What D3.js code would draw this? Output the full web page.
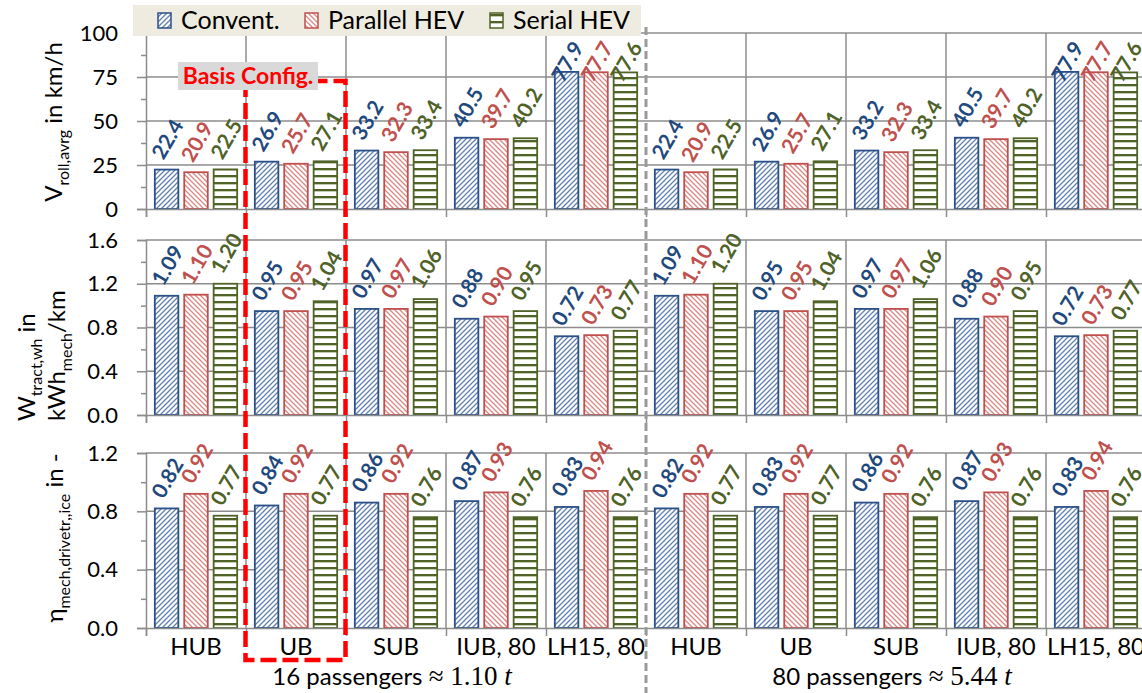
<!DOCTYPE html>
<html><head><meta charset="utf-8">
<script src="https://cdn.jsdelivr.net/npm/d3@7"></script>
<style>
html,body{margin:0;padding:0;background:#fff;}
svg{display:block;font-family:Lato,'DejaVu Sans',sans-serif;}
</style>
</head><body>
<svg id="chart" width="1142" height="693"></svg>
<script>
// ---------- data ----------
const categories = ["HUB", "UB", "SUB", "IUB, 80", "LH15, 80"];
const loadCases = ["16 passengers", "80 passengers"];
const loadMass = ["1.10", "5.44"];
const seriesNames = ["Convent.", "Parallel HEV", "Serial HEV"];

// V_roll,avrg in km/h (16 passengers, then 80 passengers)
const speedConvent  = [22.4, 26.9, 33.2, 40.5, 77.9, 22.4, 26.9, 33.2, 40.5, 77.9];
const speedParallel = [20.9, 25.7, 32.3, 39.7, 77.7, 20.9, 25.7, 32.3, 39.7, 77.7];
const speedSerial   = [22.5, 27.1, 33.4, 40.2, 77.6, 22.5, 27.1, 33.4, 40.2, 77.6];
// W_tract,wh in kWh_mech/km
const workConvent  = [1.09, 0.95, 0.97, 0.88, 0.72, 1.09, 0.95, 0.97, 0.88, 0.72];
const workParallel = [1.10, 0.95, 0.97, 0.90, 0.73, 1.10, 0.95, 0.97, 0.90, 0.73];
const workSerial   = [1.20, 1.04, 1.06, 0.95, 0.77, 1.20, 1.04, 1.06, 0.95, 0.77];
// eta_mech,drivetr,,ice
const effConvent  = [0.82, 0.84, 0.86, 0.87, 0.83, 0.82, 0.83, 0.86, 0.87, 0.83];
const effParallel = [0.92, 0.92, 0.92, 0.93, 0.94, 0.92, 0.92, 0.92, 0.93, 0.94];
const effSerial   = [0.77, 0.77, 0.76, 0.76, 0.76, 0.77, 0.77, 0.76, 0.76, 0.76];

const speedTicks = [0, 25, 50, 75, 100];
const speedMinor = [12.5, 37.5, 62.5, 87.5];
const workTicks = [0, 0.4, 0.8, 1.2, 1.6];
const workMinor = [0.2, 0.6, 1.0, 1.4];
const effTicks = [0, 0.4, 0.8, 1.2];
const effMinor = [0.2, 0.6, 1.0];

// ---------- styles ----------
const borderColors = ["#2b5088", "#c0504d", "#4f6228"];
const labelColors = ["#1f497d", "#c0504d", "#4f6228"];
const gridColor = "#8c8c8c";

const svg = d3.select("#chart");
const W = 1142, H = 693;
const x0 = 146, x1 = 1146;
const nGroups = categories.length * loadCases.length;

const xGroup = d3.scaleBand().domain(d3.range(nGroups)).range([x0, x1]).padding(0);
const xSeries = d3.scaleBand().domain(d3.range(3)).range([0, xGroup.bandwidth()])
  .paddingInner(0.2).paddingOuter(0.3);
const xBound = d3.scaleLinear().domain([0, nGroups]).range([x0, x1]);

// ---------- patterns ----------
const defs = svg.append("defs");
{
  const p0 = defs.append("pattern").attr("id", "pat0").attr("patternUnits", "userSpaceOnUse")
    .attr("width", 5).attr("height", 5);
  p0.append("rect").attr("width", 5).attr("height", 5).attr("fill", "#fff");
  p0.append("path").attr("d", "M-1,1 l2,-2 M0,5 l5,-5 M4,6 l2,-2")
    .attr("stroke", "#3a62a0").attr("stroke-width", 1.3).attr("stroke-opacity", 0.8);
  const p1 = defs.append("pattern").attr("id", "pat1").attr("patternUnits", "userSpaceOnUse")
    .attr("width", 5).attr("height", 5);
  p1.append("rect").attr("width", 5).attr("height", 5).attr("fill", "#fff");
  p1.append("path").attr("d", "M-1,4 l2,2 M0,0 l5,5 M4,-1 l2,2")
    .attr("stroke", "#d06a67").attr("stroke-width", 1.3).attr("stroke-opacity", 0.8);
  const p2 = defs.append("pattern").attr("id", "pat2").attr("patternUnits", "userSpaceOnUse")
    .attr("width", 7).attr("height", 7);
  p2.append("rect").attr("width", 7).attr("height", 7).attr("fill", "#fff");
  p2.append("rect").attr("y", 0).attr("width", 7).attr("height", 2).attr("fill", "#4f6228");
  p2.append("rect").attr("y", 2).attr("width", 7).attr("height", 1).attr("fill", "#c3ccb0");
}

// ---------- panels ----------
const panels = [
  { series: [speedConvent, speedParallel, speedSerial], domain: [0, 100], top: 33, bottom: 209,
    ticks: speedTicks, minor: speedMinor, tickFmt: d3.format("d"), valFmt: d3.format(".1f"), labelMinY: 61 },
  { series: [workConvent, workParallel, workSerial], domain: [0, 1.6], top: 240, bottom: 415,
    ticks: workTicks, minor: workMinor, tickFmt: d3.format(".1f"), valFmt: d3.format(".2f"), labelMinY: 0 },
  { series: [effConvent, effParallel, effSerial], domain: [0, 1.2], top: 453, bottom: 628,
    ticks: effTicks, minor: effMinor, tickFmt: d3.format(".1f"), valFmt: d3.format(".2f"), labelMinY: 0 }
];

const sepIndex = categories.length;

panels.forEach((p, pi) => {
  const y = d3.scaleLinear().domain(p.domain).range([p.bottom, p.top]);
  const g = svg.append("g");

  // horizontal grid
  g.selectAll("line.hgrid").data(p.ticks.filter(t => t > 0)).join("line")
    .attr("x1", x0).attr("x2", W + 5)
    .attr("y1", d => y(d)).attr("y2", d => y(d))
    .attr("stroke", gridColor).attr("stroke-width", 1.5);
  // vertical grid
  g.selectAll("line.vgrid").data(d3.range(1, nGroups).filter(i => i !== sepIndex)).join("line")
    .attr("x1", d => xBound(d)).attr("x2", d => xBound(d))
    .attr("y1", y(p.domain[1])).attr("y2", y(0))
    .attr("stroke", gridColor).attr("stroke-width", 1.5);

  // bars
  p.series.forEach((vals, s) => {
    g.selectAll("rect.s" + s).data(vals).join("rect")
      .attr("x", (d, i) => xGroup(i) + xSeries(s))
      .attr("y", d => y(d))
      .attr("width", xSeries.bandwidth())
      .attr("height", d => y(0) - y(d))
      .attr("fill", "url(#pat" + s + ")")
      .attr("stroke", borderColors[s]).attr("stroke-width", 1.8);
  });

  // axes
  const ya = g.append("g").attr("transform", `translate(${x0},0)`)
    .call(d3.axisLeft(y).tickValues(p.ticks).tickSize(9).tickPadding(19).tickFormat(p.tickFmt));
  ya.select(".domain").attr("stroke", gridColor).attr("stroke-width", 1.5);
  ya.selectAll(".tick line").attr("stroke", gridColor).attr("stroke-width", 1.5);
  ya.selectAll(".tick text").attr("font-size", 22).attr("fill", "#000")
    .attr("font-family", "Lato, sans-serif");
  const ym = g.append("g").attr("transform", `translate(${x0},0)`)
    .call(d3.axisLeft(y).tickValues(p.minor).tickSize(5).tickFormat(""));
  ym.select(".domain").remove();
  ym.selectAll(".tick line").attr("stroke", gridColor).attr("stroke-width", 1.5);

  const xa = g.append("g").attr("transform", `translate(0,${y(0)})`)
    .call(d3.axisBottom(xBound).tickValues(d3.range(nGroups + 1)).tickSize(8).tickFormat(""));
  xa.select(".domain").attr("stroke", gridColor).attr("stroke-width", 1.5);
  xa.selectAll(".tick line").attr("stroke", gridColor).attr("stroke-width", 1.5);

  // value labels
  p.series.forEach((vals, s) => {
    g.selectAll("text.v" + s).data(vals).join("text")
      .attr("transform", (d, i) => {
        const cx = xGroup(i) + xSeries(s) + xSeries.bandwidth() / 2;
        const cy = Math.max(y(d) - 31, p.labelMinY);
        return `translate(${cx},${cy}) rotate(-60)`;
      })
      .attr("text-anchor", "middle").attr("dominant-baseline", "central")
      .attr("font-weight", "bold").attr("font-size", 21)
      .attr("fill", labelColors[s])
      .text(d => p.valFmt(d));
  });

  if (pi === panels.length - 1) {
    const ca = svg.append("g").attr("transform", `translate(0,${y(0)})`)
      .call(d3.axisBottom(xGroup).tickSize(0).tickPadding(10).tickFormat(i => categories[i % categories.length]));
    ca.select(".domain").remove();
    ca.selectAll("text").attr("font-size", 24).attr("fill", "#000").attr("font-family", "Lato, sans-serif");
  }
});

// ---------- group labels ----------
const halfW = (x1 - x0) / loadCases.length;
loadCases.forEach((lc, k) => {
  const t = svg.append("text")
    .attr("x", x0 + halfW * k + halfW / 2 - 4).attr("y", 685)
    .attr("text-anchor", "middle").attr("font-size", 24).attr("fill", "#000");
  t.append("tspan").text(lc + " ");
  t.append("tspan").attr("font-family", "'Liberation Serif', serif").attr("font-size", 27)
    .text("\u2248 " + loadMass[k] + " ");
  t.append("tspan").attr("font-family", "'Liberation Serif', serif").attr("font-size", 27)
    .attr("font-style", "italic").text("t");
});

// ---------- y titles ----------
{
  const t1 = svg.append("text").attr("transform", "translate(62,122) rotate(-90)")
    .attr("text-anchor", "middle").attr("font-size", 24).attr("fill", "#000");
  t1.append("tspan").text("V");
  t1.append("tspan").attr("font-size", 16).attr("dy", 7).text("roll,avrg");
  t1.append("tspan").attr("dy", -7).text(" in km/h");

  const t2a = svg.append("text").attr("transform", "translate(35,421) rotate(-90)")
    .attr("text-anchor", "start").attr("font-size", 24).attr("fill", "#000");
  t2a.append("tspan").text("W");
  t2a.append("tspan").attr("font-size", 16).attr("dy", 7).text("tract,wh");
  t2a.append("tspan").attr("dy", -7).text(" in");
  const t2b = svg.append("text").attr("transform", "translate(65,421) rotate(-90)")
    .attr("text-anchor", "start").attr("font-size", 24).attr("fill", "#000");
  t2b.append("tspan").text("kWh");
  t2b.append("tspan").attr("font-size", 16).attr("dy", 7).text("mech");
  t2b.append("tspan").attr("dy", -7).text("/km");

  const t3 = svg.append("text").attr("transform", "translate(63,538) rotate(-90)")
    .attr("text-anchor", "middle").attr("font-size", 24).attr("fill", "#000");
  t3.append("tspan").text("\u03b7");
  t3.append("tspan").attr("font-size", 16).attr("dy", 7).text("mech,drivetr,,ice");
  t3.append("tspan").attr("dy", -7).text(" in -");
}

// ---------- separator ----------
svg.append("line").attr("x1", xBound(sepIndex)).attr("x2", xBound(sepIndex))
  .attr("y1", 27).attr("y2", H)
  .attr("stroke", "#9a9a9a").attr("stroke-width", 3).attr("stroke-dasharray", "8,4");

// ---------- basis config box ----------
svg.append("rect")
  .attr("x", xBound(1) - 0.5).attr("y", 81)
  .attr("width", xBound(2) - xBound(1)).attr("height", 579)
  .attr("fill", "none").attr("stroke", "#ff0000").attr("stroke-width", 4.5)
  .attr("stroke-dasharray", "16,6");
svg.append("rect").attr("x", 178).attr("y", 62).attr("width", 140).attr("height", 28).attr("fill", "#d9d9d9");
svg.append("text").attr("x", 248).attr("y", 84).attr("text-anchor", "middle")
  .attr("font-size", 23).attr("font-weight", "bold").attr("fill", "#ff0000").text("Basis Config.");

// ---------- legend ----------
{
  const lg = svg.append("g");
  lg.append("rect").attr("x", 133).attr("y", 5).attr("width", 508).attr("height", 31).attr("fill", "#eeece1");
  const sx = [158, 305, 490];
  seriesNames.forEach((n, s) => {
    lg.append("rect").attr("x", sx[s]).attr("y", 13).attr("width", 13).attr("height", 15)
      .attr("fill", "url(#pat" + s + ")").attr("stroke", borderColors[s]).attr("stroke-width", 1.5);
    lg.append("text").attr("x", sx[s] + 23).attr("y", 29).attr("font-size", 25).attr("fill", "#000").text(n);
  });
}
</script>
</body></html>
